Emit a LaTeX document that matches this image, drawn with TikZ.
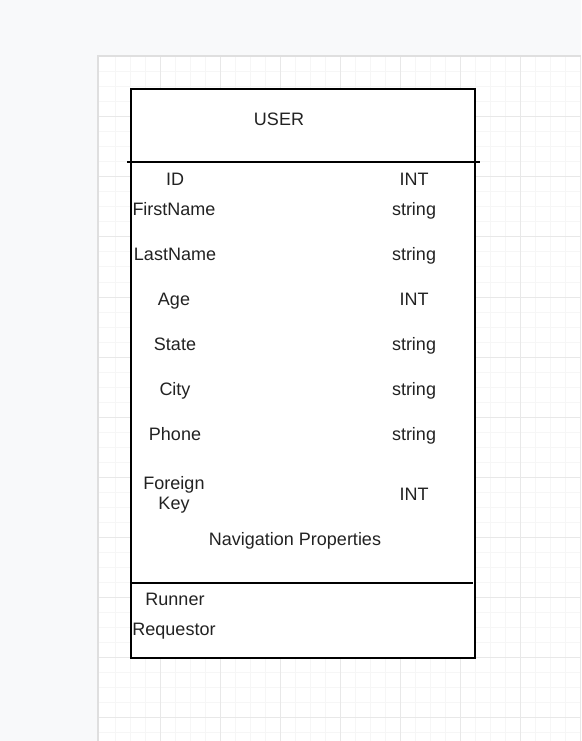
\documentclass[tikz,border=0pt]{standalone}
\usepackage{fontspec}
\setmainfont{Liberation Sans}
\definecolor{bgout}{HTML}{F8F9FA}
\definecolor{gridminor}{HTML}{F6F6F6}
\definecolor{gridmajor}{HTML}{E8E8E8}
\definecolor{txt}{HTML}{222222}
\begin{document}
\begin{tikzpicture}[x=0.75pt,y=-0.75pt,
  lbl/.style={font=\fontsize{13.5}{15}\selectfont,text=txt,inner sep=0pt,align=center,yshift=-1.4pt},
  one/.style={lbl,text height=9.7pt,text depth=2.8pt},
  boxline/.style={draw=black,line width=1.2pt}]
\useasboundingbox (0,0) rectangle (581,741);
\fill[bgout] (0,0) rectangle (581,741);
% canvas
\fill[gray!25] (97,55) rectangle (581,741);
\fill[white] (99,57) rectangle (581,741);
\foreach \x in {115,130,145,175,190,205,235,250,265,295,310,325,355,370,385,415,430,445,475,490,505,535,550,565}
  \draw[gridminor,line width=0.75pt] (\x,57) -- (\x,741);
\foreach \y in {72,87,102,132,147,162,192,207,222,252,267,282,312,327,342,372,387,402,432,447,462,492,507,522,552,567,582,612,627,642,672,687,702,732}
  \draw[gridminor,line width=0.75pt] (99,\y) -- (581,\y);
\foreach \x in {160,220,280,340,400,460,520,580}
  \draw[gridmajor,line width=0.75pt] (\x,57) -- (\x,741);
\foreach \y in {117,177,237,297,357,417,477,537,597,657,717}
  \draw[gridmajor,line width=0.75pt] (99,\y) -- (581,\y);
% entity box
\node[boxline,fill=white,minimum width=344*0.75pt,minimum height=569*0.75pt,inner sep=0pt,anchor=north west] (box) at (130,88) {};
\coordinate (h1) at (127,162);
\coordinate (h2) at (480,162);
\draw[black,line width=1.1pt] (h1) -- (h2);
\coordinate (s1) at (130,583);
\coordinate (s2) at (473,583);
\draw[black,line width=1.1pt] (s1) -- (s2);
% texts
\node[one] (user) at (279,119) {USER};
\node[one] (n1) at (175,179) {ID};
\node[one] (t1) at (414,179) {INT};
\node[one] (n2) at (174,209) {FirstName};
\node[one] (t2) at (414,209) {string};
\node[one] (n3) at (175,254) {LastName};
\node[one] (t3) at (414,254) {string};
\node[one] (n4) at (174,299) {Age};
\node[one] (t4) at (414,299) {INT};
\node[one] (n5) at (175,344) {State};
\node[one] (t5) at (414,344) {string};
\node[one] (n6) at (175,389) {City};
\node[one] (t6) at (414,389) {string};
\node[one] (n7) at (175,434) {Phone};
\node[one] (t7) at (414,434) {string};
\node[lbl] (n8) at (174,493) {Foreign\\Key};
\node[one] (t8) at (414,494) {INT};
\node[one] (nav) at (295,539) {Navigation Properties};
\node[one] (r1) at (175,599) {Runner};
\node[one] (r2) at (174,629) {Requestor};
\end{tikzpicture}
\end{document}
